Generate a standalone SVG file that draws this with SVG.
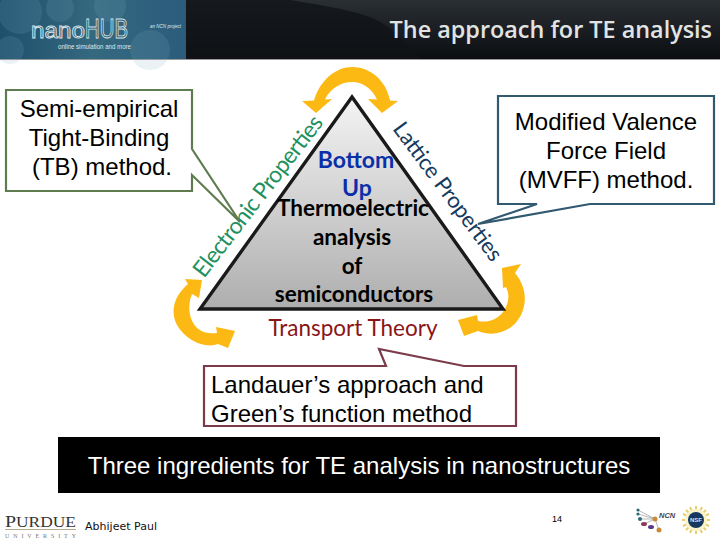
<svg xmlns="http://www.w3.org/2000/svg" width="720" height="540" viewBox="0 0 720 540">
<style>
.s{font-family:"Liberation Sans",Arial,sans-serif;fill:#000;font-size:24px}
.c{font-family:"Lato","Open Sans",sans-serif}
.m{text-anchor:middle}
.b{font-weight:700;font-size:22.5px;fill:#000}
.u{font-weight:700;font-size:23px;fill:#0a2fa8}
.arrow{fill:#fdb913}
.box{fill:#fff;stroke-width:2.2}
.blob{fill:#7fb0c8;opacity:.16}
</style>
<defs>
<linearGradient id="hdr" x1="0" y1="0" x2="0" y2="1"><stop offset="0" stop-color="#2a2f34"/><stop offset="1" stop-color="#0b0d10"/></linearGradient>
<linearGradient id="logo" x1="0" y1="0" x2="1" y2="0"><stop offset="0" stop-color="#1e4f6b"/><stop offset=".5" stop-color="#35697f"/><stop offset="1" stop-color="#2b5c7c"/></linearGradient>
<linearGradient id="tri" x1="0" y1="0" x2="0" y2="1"><stop offset="0" stop-color="#f4f4f4"/><stop offset="1" stop-color="#aeaeae"/></linearGradient>
</defs>
<g id="header">
<rect x="0" y="0" width="720" height="59" fill="url(#hdr)"/>
<rect x="0" y="59" width="720" height="1" fill="#9a9a9a"/>
<path d="M186 0H290C340 8 370 14 385 25C400 35 410 50 420 59H186Z" fill="#101316" opacity=".8"/>
<rect x="0" y="0" width="186" height="59" fill="url(#logo)"/>
<circle class="blob" cx="20" cy="12" r="22"/><circle class="blob" cx="60" cy="8" r="14"/><circle class="blob" cx="150" cy="50" r="20"/><circle class="blob" cx="110" cy="6" r="16"/><circle class="blob" cx="10" cy="50" r="14"/>
<text x="31" y="38" font-family="'Liberation Sans',sans-serif" font-size="22" fill="#2b5c76" stroke="#d8e4ea" stroke-width=".9" textLength="54" lengthAdjust="spacingAndGlyphs">nano</text>
<text x="85" y="38" font-family="'Liberation Sans',sans-serif" font-size="27" fill="#2b5c76" stroke="#d8e4ea" stroke-width=".9" textLength="43" lengthAdjust="spacingAndGlyphs">HUB</text>
<text x="58" y="49" font-family="'Liberation Sans',sans-serif" font-size="7.5" fill="#dfe8ec" textLength="73" lengthAdjust="spacingAndGlyphs">online simulation and more</text>
<text x="150" y="28" font-family="'Liberation Sans',sans-serif" font-size="5.5" font-style="italic" fill="#dfe8ec" textLength="31" lengthAdjust="spacingAndGlyphs">an NCN project</text>
<text x="712" y="38" text-anchor="end" font-family="'Open Sans',sans-serif" font-weight="600" font-size="23.4" fill="#e2e4e4">The approach for TE analysis</text>
</g>
<g id="connectors">
<path class="arrow" d="M302 101L314 100.5C320 80 336 67 352 67C370 67 386 80 390 100.5L398 101L382 113L368 99L377 99.5C372 88 362 82 352 82C342 82 330 88 325 99.5L332 99L316 113Z"/>
<path class="arrow" d="M185 279L202 280L199 298L192 294C187 306 189 320 197 328C203 333 210 334 217 333L216 327L235 331L228 348L218 344C205 349 185 340 177 325C170 311 174 296 188 284Z"/>
<path class="arrow" d="M502 268L521 264L515 273C525 285 528 300 521 315C513 331 495 338 478 331L464 336L458 320L477 315L478 321C487 323 497 320 503 312C509 303 510 295 506 287L503 288Z"/>
</g>
<g id="triangle">
<path d="M352 97L200 309H503Z" fill="url(#tri)" stroke="#1a1a1a" stroke-width="3.4"/>
<text class="c u m" x="356" y="168">Bottom</text>
<text class="c u m" x="357" y="196">Up</text>
<text class="c b m" x="353" y="216">Thermoelectric</text>
<text class="c b m" x="352" y="245">analysis</text>
<text class="c b m" x="352" y="274">of</text>
<text class="c b m" x="354" y="302">semiconductors</text>
</g>
<g id="electronic-properties"><text class="c" transform="translate(204 279) rotate(-52.4)" font-size="23" fill="#1e9160" textLength="197">Electronic Properties</text></g>
<g id="lattice-properties"><text class="c" transform="translate(392 129) rotate(53.3)" font-size="22" fill="#143a5c" textLength="167">Lattice Properties</text></g>
<g id="transport-theory"><text class="c m" x="353" y="336" font-size="22.5" fill="#8a1518">Transport Theory</text></g>
<g id="tb-callout">
<path class="box" stroke="#5f7c4f" d="M6 90H192V149L240 222L192 175V191H6Z"/>
<text class="s m" x="99" y="117">Semi-empirical</text>
<text class="s m" x="99" y="146">Tight-Binding</text>
<text class="s m" x="102" y="175">(TB) method.</text>
</g>
<g id="mvff-callout">
<path class="box" stroke="#31596f" d="M498 96H714V204H590L478 224L537 204H498Z"/>
<text class="s m" x="606" y="130">Modified Valence</text>
<text class="s m" x="606" y="159">Force Field</text>
<text class="s m" x="606" y="188">(MVFF) method.</text>
</g>
<g id="landauer-callout">
<path class="box" stroke="#7b3b4b" d="M204 366H386L379 349L464 366H516V426H204Z"/>
<text class="s" x="211" y="393">Landauer’s approach and</text>
<text class="s" x="211" y="422">Green’s function method</text>
</g>
<g id="banner">
<rect x="58" y="437" width="602" height="56" fill="#000"/>
<text x="359" y="474" text-anchor="middle" font-family="'Liberation Sans',sans-serif" font-size="24" fill="#fff">Three ingredients for TE analysis in nanostructures</text>
</g>
<g id="footer">
<text x="5" y="527" font-family="'Liberation Serif',serif" font-size="16" fill="#333" textLength="71" lengthAdjust="spacingAndGlyphs">P<tspan font-size="14">URDUE</tspan></text>
<rect x="5" y="529" width="71" height="1" fill="#b5ab8c"/>
<text x="5" y="538" font-family="'Liberation Serif',serif" font-size="6" fill="#777" textLength="71">UNIVERSITY</text>
<text x="85" y="530" font-family="'DejaVu Sans',sans-serif" font-size="11" fill="#111" textLength="72">Abhijeet Paul</text>
<text x="552" y="522" font-family="'Liberation Sans',sans-serif" font-size="9" fill="#000">14</text>
<g id="ncn-logo">
<path d="M638 510L655 519M638 514L655 519M640 519L655 519M644 524L655 519M655 519L659 530" stroke="#999" stroke-width=".7" fill="none"/>
<circle cx="638" cy="510" r="1.6" fill="#2c6a78"/><circle cx="638" cy="514" r="1.6" fill="#2c6a78"/><circle cx="640" cy="519" r="2" fill="#2c6a78"/>
<ellipse cx="644" cy="524" rx="3" ry="2" fill="#8b3a5a"/><ellipse cx="651" cy="527" rx="3" ry="2" fill="#5b3a8b"/><circle cx="659" cy="530" r="2.5" fill="#c98a3a"/><circle cx="655" cy="519" r="2.5" fill="#c98a3a"/>
<text x="659" y="518" font-family="'Liberation Sans',sans-serif" font-style="italic" font-weight="700" font-size="7.5" fill="#445">NCN</text>
</g>
<g id="nsf-logo">
<path d="M696 506V534M682 520H710M686 510L706 530M706 510L686 530M690 507L702 533M702 507L690 533M683 514L709 526M709 514L683 526" stroke="#e8cf70" stroke-width="2"/>
<circle cx="696" cy="520" r="11" fill="#fbf3c8"/>
<circle cx="696" cy="520" r="8" fill="#16385e"/>
<text x="696" y="522" text-anchor="middle" font-family="'Liberation Sans',sans-serif" font-weight="700" font-size="6" fill="#dde">NSF</text>
</g>
</g>
</svg>
